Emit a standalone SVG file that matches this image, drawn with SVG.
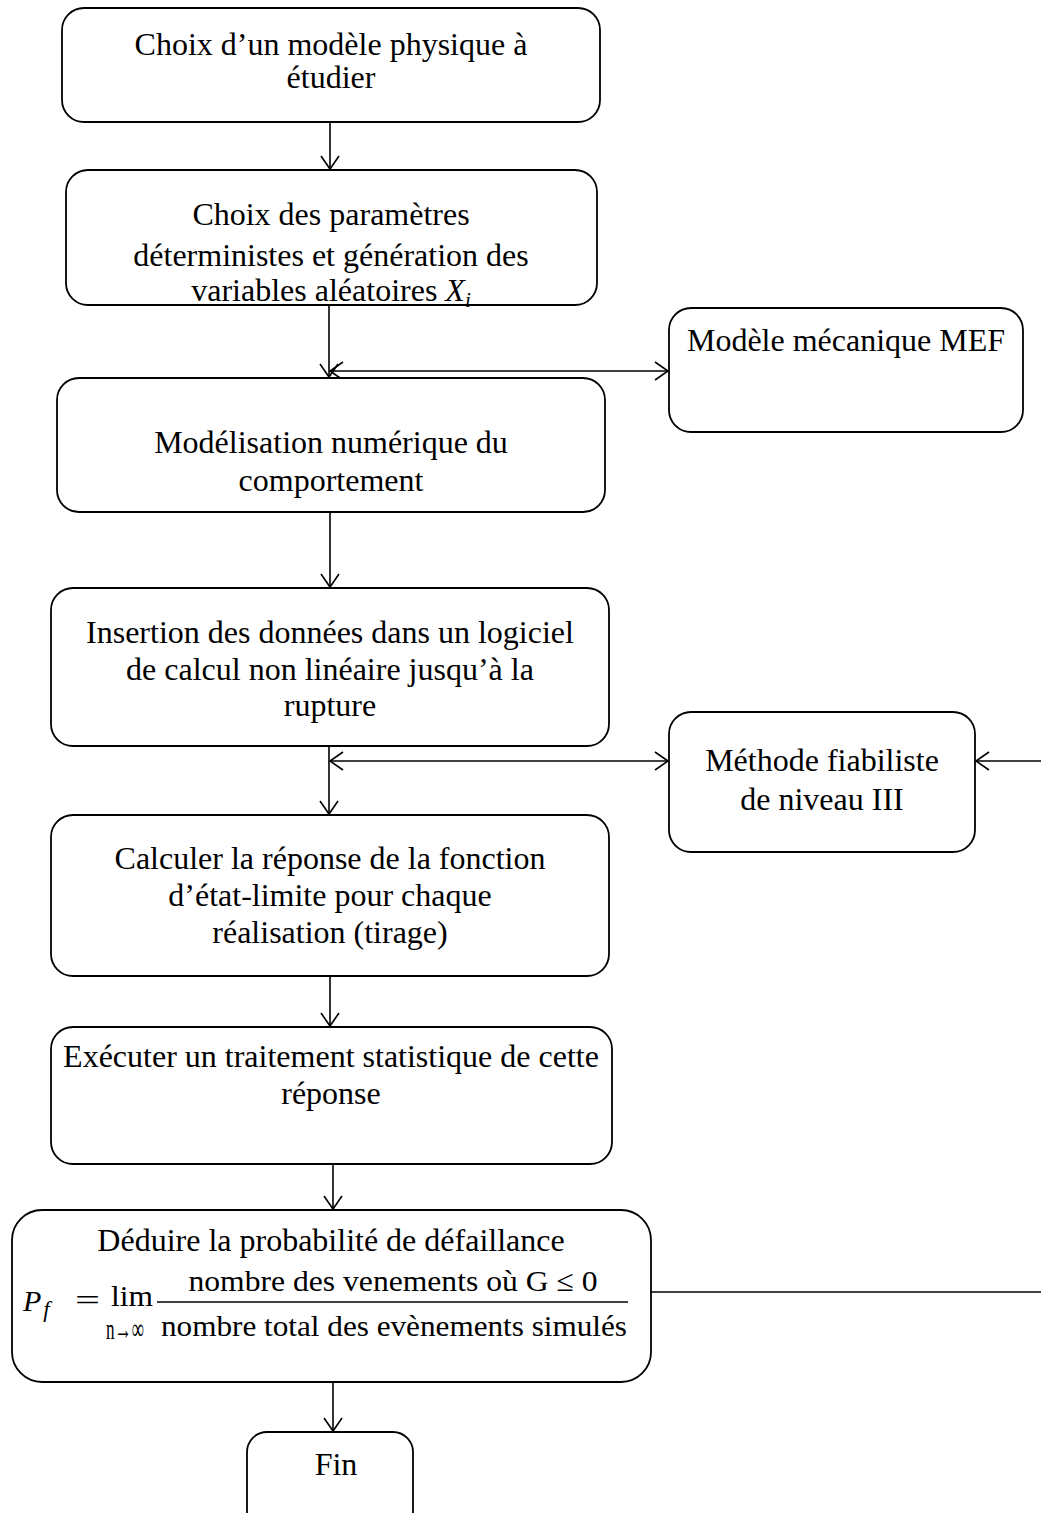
<svg xmlns="http://www.w3.org/2000/svg" width="1041" height="1513" viewBox="0 0 1041 1513">
<style>
.box{fill:#fff;stroke:#000;stroke-width:1.8}
.t{font-family:"Liberation Serif","Times New Roman",serif;font-size:32px;fill:#000;text-anchor:middle}
.m{font-family:"Liberation Serif","Cambria Math",serif;font-size:30px;fill:#000}
.c{stroke:#000;stroke-width:1.6;fill:none}
</style>
<defs>
<marker id="ah" markerUnits="userSpaceOnUse" markerWidth="16" markerHeight="22" viewBox="-14 -11 16 22" refX="0" refY="0" orient="auto-start-reverse">
<path d="M-13,-9 L0,0 L-13,9" fill="none" stroke="#000" stroke-width="1.6"/>
</marker>
</defs>
<rect width="1041" height="1513" fill="#fff"/>
<g id="connectors">
<line class="c" x1="330" y1="122" x2="330" y2="169" marker-end="url(#ah)"/>
<line class="c" x1="329" y1="305" x2="329" y2="377" marker-end="url(#ah)"/>
<line class="c" x1="330" y1="371" x2="668" y2="371" marker-start="url(#ah)" marker-end="url(#ah)"/>
<line class="c" x1="330" y1="512" x2="330" y2="587" marker-end="url(#ah)"/>
<line class="c" x1="329" y1="746" x2="329" y2="814" marker-end="url(#ah)"/>
<line class="c" x1="330" y1="761" x2="668" y2="761" marker-start="url(#ah)" marker-end="url(#ah)"/>
<line class="c" x1="1041" y1="761" x2="976" y2="761" marker-end="url(#ah)"/>
<line class="c" x1="330" y1="976" x2="330" y2="1026" marker-end="url(#ah)"/>
<line class="c" x1="333" y1="1164" x2="333" y2="1209" marker-end="url(#ah)"/>
<line class="c" x1="651" y1="1292" x2="1041" y2="1292"/>
<line class="c" x1="333" y1="1382" x2="333" y2="1431" marker-end="url(#ah)"/>
</g>
<g id="n1">
<rect class="box" x="62" y="8" width="538" height="114" rx="22"/>
<text class="t" x="331" y="55">Choix d’un modèle physique à</text>
<text class="t" x="331" y="88">étudier</text>
</g>
<g id="n2">
<rect class="box" x="66" y="170" width="531" height="135" rx="22"/>
<text class="t" x="331" y="225">Choix des paramètres</text>
<text class="t" x="331" y="266">déterministes et génération des</text>
<text class="t" x="331" y="301">variables aléatoires <tspan font-style="italic">X</tspan><tspan font-style="italic" font-size="21" dy="6">i</tspan></text>
</g>
<g id="n3">
<rect class="box" x="669" y="308" width="354" height="124" rx="22"/>
<text class="t" x="846" y="351">Modèle mécanique MEF</text>
</g>
<g id="n4">
<rect class="box" x="57" y="378" width="548" height="134" rx="22"/>
<text class="t" x="331" y="453">Modélisation numérique du</text>
<text class="t" x="331" y="491">comportement</text>
</g>
<g id="n5">
<rect class="box" x="51" y="588" width="558" height="158" rx="22"/>
<text class="t" x="330" y="643">Insertion des données dans un logiciel</text>
<text class="t" x="330" y="680">de calcul non linéaire jusqu’à la</text>
<text class="t" x="330" y="716">rupture</text>
</g>
<g id="n6">
<rect class="box" x="669" y="712" width="306" height="140" rx="22"/>
<text class="t" x="822" y="771">Méthode fiabiliste</text>
<text class="t" x="822" y="810">de niveau III</text>
</g>
<g id="n7">
<rect class="box" x="51" y="815" width="558" height="161" rx="22"/>
<text class="t" x="330" y="869">Calculer la réponse de la fonction</text>
<text class="t" x="330" y="906">d’état-limite pour chaque</text>
<text class="t" x="330" y="943">réalisation (tirage)</text>
</g>
<g id="n8">
<rect class="box" x="51" y="1027" width="561" height="137" rx="22"/>
<text class="t" x="331" y="1067">Exécuter un traitement statistique de cette</text>
<text class="t" x="331" y="1104">réponse</text>
</g>
<g id="n9">
<rect class="box" x="12" y="1210" width="639" height="172" rx="30"/>
<text class="t" x="331" y="1251">Déduire la probabilité de défaillance</text>
<text class="m" x="23" y="1311" font-style="italic" font-size="34">P<tspan font-size="23" dx="2" dy="6">f</tspan></text>
<text class="m" x="75" y="1310" textLength="25" lengthAdjust="spacingAndGlyphs">=</text>
<text class="m" x="111" y="1306" textLength="42" lengthAdjust="spacingAndGlyphs">lim</text>
<text class="m" x="106" y="1339" font-size="16" textLength="38" lengthAdjust="spacingAndGlyphs">n→∞</text>
<text class="m" x="393" y="1291" text-anchor="middle" textLength="409" lengthAdjust="spacingAndGlyphs">nombre des venements où G ≤ 0</text>
<line x1="157" y1="1302" x2="628" y2="1302" stroke="#000" stroke-width="1.6"/>
<text class="m" x="394" y="1336" text-anchor="middle" textLength="466" lengthAdjust="spacingAndGlyphs">nombre total des evènements simulés</text>
</g>
<g id="n10">
<rect class="box" x="247" y="1432" width="166" height="100" rx="20"/>
<text class="t" x="336" y="1475">Fin</text>
</g>
</svg>
